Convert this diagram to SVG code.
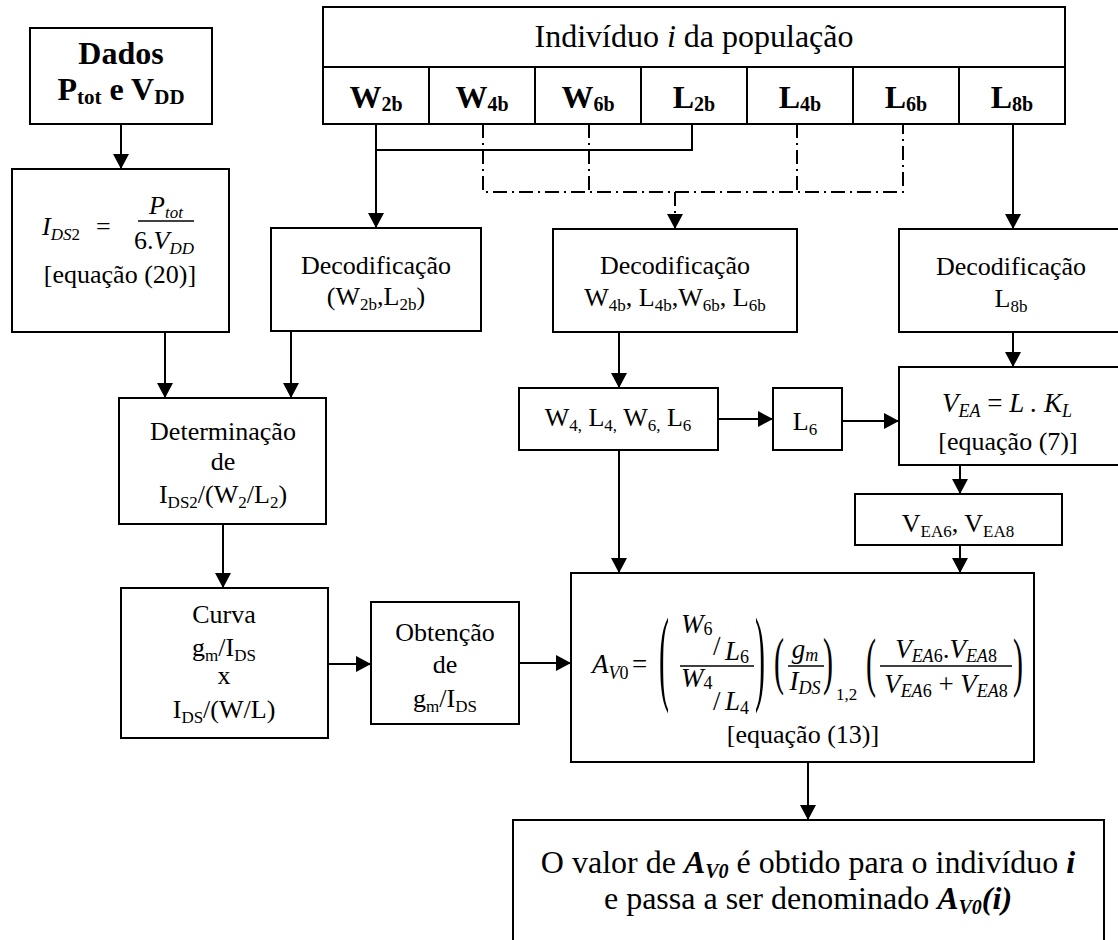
<svg xmlns="http://www.w3.org/2000/svg" width="1118" height="940" viewBox="0 0 1118 940" font-family="'Liberation Serif', 'Times New Roman', serif" font-size="26">
<style>
.box{fill:#fff;stroke:#000;stroke-width:2}
.t{font-family:'Liberation Serif', 'Times New Roman', serif;fill:#000}
.c{text-anchor:middle}
.b{font-weight:bold}
.i{font-style:italic}
.ln{stroke:#000;stroke-width:2;fill:none}
.dd{stroke-dasharray:14 5 2 5}
.bar{stroke:#000;stroke-width:1.5}
</style>
<defs>
<marker id="ah" markerUnits="userSpaceOnUse" markerWidth="16" markerHeight="16" refX="15" refY="8" orient="auto">
<path d="M0,0 L15,8 L0,16 Z" fill="#000"/>
</marker>
</defs>
<rect width="1118" height="940" fill="#fff"/>

<g id="connectors">
<line class="ln" x1="121" y1="124" x2="121" y2="169" marker-end="url(#ah)"/>
<line class="ln" x1="165" y1="332" x2="165" y2="398" marker-end="url(#ah)"/>
<line class="ln" x1="291" y1="331" x2="291" y2="398" marker-end="url(#ah)"/>
<line class="ln" x1="223" y1="524" x2="223" y2="588" marker-end="url(#ah)"/>
<line class="ln" x1="328" y1="664" x2="371" y2="664" marker-end="url(#ah)"/>
<line class="ln" x1="519" y1="663" x2="571" y2="663" marker-end="url(#ah)"/>
<line class="ln" x1="376" y1="124" x2="376" y2="228" marker-end="url(#ah)"/>
<polyline class="ln" points="376,150 692,150 692,124"/>
<polyline class="ln dd" points="483,124 483,192 903,192 903,124"/>
<line class="ln dd" x1="589" y1="124" x2="589" y2="192"/>
<line class="ln dd" x1="797" y1="124" x2="797" y2="192"/>
<line class="ln dd" x1="675" y1="192" x2="675" y2="229" marker-end="url(#ah)"/>
<line class="ln" x1="1013" y1="124" x2="1013" y2="229" marker-end="url(#ah)"/>
<line class="ln" x1="619" y1="332" x2="619" y2="388" marker-end="url(#ah)"/>
<line class="ln" x1="718" y1="419" x2="773" y2="419" marker-end="url(#ah)"/>
<line class="ln" x1="842" y1="421" x2="899" y2="421" marker-end="url(#ah)"/>
<line class="ln" x1="1013" y1="332" x2="1013" y2="367" marker-end="url(#ah)"/>
<line class="ln" x1="960" y1="465" x2="960" y2="494" marker-end="url(#ah)"/>
<line class="ln" x1="960" y1="545" x2="960" y2="573" marker-end="url(#ah)"/>
<line class="ln" x1="619" y1="450" x2="619" y2="573" marker-end="url(#ah)"/>
<line class="ln" x1="808" y1="762" x2="808" y2="820" marker-end="url(#ah)"/>
</g>

<g id="dados">
<rect class="box" x="30" y="28" width="182" height="96"/>
<text class="t b c" x="121" y="64" font-size="32">Dados</text>
<text class="t b c" x="121" y="100" font-size="32">P<tspan font-size="21" dy="4">tot</tspan><tspan dy="-4"> e V</tspan><tspan font-size="21" dy="4">DD</tspan></text>
</g>

<g id="individuo">
<rect class="box" x="323" y="7" width="742" height="117"/>
<line class="ln" x1="323" y1="67" x2="1065" y2="67"/>
<line class="ln" x1="429" y1="67" x2="429" y2="124"/>
<line class="ln" x1="535" y1="67" x2="535" y2="124"/>
<line class="ln" x1="641" y1="67" x2="641" y2="124"/>
<line class="ln" x1="747" y1="67" x2="747" y2="124"/>
<line class="ln" x1="853" y1="67" x2="853" y2="124"/>
<line class="ln" x1="959" y1="67" x2="959" y2="124"/>
<text class="t c" x="694" y="47" font-size="32">Indivíduo <tspan class="i">i</tspan> da população</text>
<text class="t b c" x="376" y="108" font-size="32">W<tspan font-size="20" dy="3">2b</tspan></text>
<text class="t b c" x="482" y="108" font-size="32">W<tspan font-size="20" dy="3">4b</tspan></text>
<text class="t b c" x="588" y="108" font-size="32">W<tspan font-size="20" dy="3">6b</tspan></text>
<text class="t b c" x="694" y="108" font-size="32">L<tspan font-size="20" dy="3">2b</tspan></text>
<text class="t b c" x="800" y="108" font-size="32">L<tspan font-size="20" dy="3">4b</tspan></text>
<text class="t b c" x="906" y="108" font-size="32">L<tspan font-size="20" dy="3">6b</tspan></text>
<text class="t b c" x="1012" y="108" font-size="32">L<tspan font-size="20" dy="3">8b</tspan></text>
</g>

<g id="ids2">
<rect class="box" x="12" y="169" width="217" height="163"/>
<text class="t i" x="42" y="235">I<tspan font-size="17" dy="5">DS</tspan><tspan font-size="17" font-style="normal">2</tspan></text>
<text class="t" x="96" y="235">=</text>
<text class="t i c" x="166" y="214">P<tspan font-size="17" dy="4">tot</tspan></text>
<line class="bar" x1="138" y1="221" x2="194" y2="221"/>
<text class="t c" x="164" y="249">6.<tspan class="i">V</tspan><tspan class="i" font-size="17" dy="5">DD</tspan></text>
<text class="t c" x="120" y="283">[equação (20)]</text>
</g>

<g id="decod1">
<rect class="box" x="271" y="228" width="210" height="103"/>
<text class="t c" x="376" y="274">Decodificação</text>
<text class="t c" x="376" y="305">(W<tspan font-size="17" dy="5">2b</tspan><tspan dy="-5">,L</tspan><tspan font-size="17" dy="5">2b</tspan><tspan dy="-5">)</tspan></text>
</g>

<g id="decod2">
<rect class="box" x="553" y="229" width="244" height="103"/>
<text class="t c" x="675" y="274">Decodificação</text>
<text class="t c" x="675" y="306">W<tspan font-size="17" dy="5">4b</tspan><tspan dy="-5">, L</tspan><tspan font-size="17" dy="5">4b</tspan><tspan dy="-5">,W</tspan><tspan font-size="17" dy="5">6b</tspan><tspan dy="-5">, L</tspan><tspan font-size="17" dy="5">6b</tspan></text>
</g>

<g id="decod3">
<rect class="box" x="899" y="229" width="226" height="103"/>
<text class="t c" x="1011" y="275">Decodificação</text>
<text class="t c" x="1011" y="307">L<tspan font-size="17" dy="5">8b</tspan></text>
</g>

<g id="determinacao">
<rect class="box" x="119" y="398" width="207" height="126"/>
<text class="t c" x="223" y="440">Determinação</text>
<text class="t c" x="223" y="470">de</text>
<text class="t c" x="223" y="503">I<tspan font-size="17" dy="5">DS2</tspan><tspan dy="-5">/(W</tspan><tspan font-size="17" dy="5">2</tspan><tspan dy="-5">/L</tspan><tspan font-size="17" dy="5">2</tspan><tspan dy="-5">)</tspan></text>
</g>

<g id="w4l4">
<rect class="box" x="519" y="388" width="199" height="62"/>
<text class="t c" x="618" y="426">W<tspan font-size="17" dy="5">4,</tspan><tspan dy="-5"> L</tspan><tspan font-size="17" dy="5">4,</tspan><tspan dy="-5"> W</tspan><tspan font-size="17" dy="5">6,</tspan><tspan dy="-5"> L</tspan><tspan font-size="17" dy="5">6</tspan></text>
</g>

<g id="l6">
<rect class="box" x="773" y="388" width="69" height="62"/>
<text class="t c" x="805" y="430">L<tspan font-size="17" dy="5">6</tspan></text>
</g>

<g id="vea">
<rect class="box" x="899" y="367" width="226" height="98"/>
<text class="t i c" x="1007" y="412" font-size="27">V<tspan font-size="18" dy="5">EA</tspan><tspan dy="-5" font-style="normal"> = </tspan>L . K<tspan font-size="18" dy="5">L</tspan></text>
<text class="t c" x="1008" y="450">[equação (7)]</text>
</g>

<g id="vea68">
<rect class="box" x="855" y="494" width="207" height="51"/>
<text class="t c" x="958" y="532">V<tspan font-size="17" dy="5">EA6</tspan><tspan dy="-5">, V</tspan><tspan font-size="17" dy="5">EA8</tspan></text>
</g>

<g id="curva">
<rect class="box" x="121" y="588" width="207" height="150"/>
<text class="t c" x="224" y="623">Curva</text>
<text class="t c" x="224" y="656">g<tspan font-size="17" dy="5">m</tspan><tspan dy="-5">/I</tspan><tspan font-size="17" dy="5">DS</tspan></text>
<text class="t c" x="224" y="684">x</text>
<text class="t c" x="224" y="718">I<tspan font-size="17" dy="5">DS</tspan><tspan dy="-5">/(W/L)</tspan></text>
</g>

<g id="obtencao">
<rect class="box" x="371" y="602" width="148" height="122"/>
<text class="t c" x="445" y="641">Obtenção</text>
<text class="t c" x="445" y="673">de</text>
<text class="t c" x="445" y="707">g<tspan font-size="17" dy="5">m</tspan><tspan dy="-5">/I</tspan><tspan font-size="17" dy="5">DS</tspan></text>
</g>

<g id="equacao">
<rect class="box" x="571" y="573" width="463" height="189"/>
<text class="t i" x="592" y="673" font-size="27">A<tspan font-size="18" dy="6">V</tspan><tspan font-size="18" font-style="normal">0</tspan></text>
<text class="t" x="632" y="673" font-size="27">=</text>
<text class="t" transform="translate(659,691) scale(1,3.5)" font-size="30">(</text>
<text class="t i" x="681" y="633" font-size="27">W<tspan font-size="18" font-style="normal" dy="2">6</tspan></text>
<text class="t" x="713" y="655" font-size="27">/</text>
<text class="t i" x="725" y="660" font-size="27">L<tspan font-size="18" font-style="normal" dy="3">6</tspan></text>
<line class="bar" x1="680" y1="666" x2="754" y2="666"/>
<text class="t i" x="681" y="687" font-size="27">W<tspan font-size="18" font-style="normal" dy="2">4</tspan></text>
<text class="t" x="713" y="710" font-size="27">/</text>
<text class="t i" x="725" y="710" font-size="27">L<tspan font-size="18" font-style="normal" dy="4">4</tspan></text>
<text class="t" transform="translate(755,691) scale(1,3.5)" font-size="30">)</text>
<text class="t" transform="translate(774,682) scale(1,2.1)" font-size="30">(</text>
<text class="t i c" x="805" y="658" font-size="27">g<tspan font-size="18" dy="3">m</tspan></text>
<line class="bar" x1="788" y1="666" x2="824" y2="666"/>
<text class="t i c" x="805" y="690" font-size="27">I<tspan font-size="18" dy="4">DS</tspan></text>
<text class="t" transform="translate(823,682) scale(1,2.1)" font-size="30">)</text>
<text class="t" x="836" y="700" font-size="17">1,2</text>
<text class="t" transform="translate(866,684) scale(1,2.2)" font-size="30">(</text>
<text class="t i c" x="946" y="658" font-size="27">V<tspan font-size="18" dy="4">EA</tspan><tspan font-size="18" font-style="normal">6</tspan><tspan dy="-4" font-style="normal">.</tspan>V<tspan font-size="18" dy="4">EA</tspan><tspan font-size="18" font-style="normal">8</tspan></text>
<line class="bar" x1="880" y1="666" x2="1012" y2="666"/>
<text class="t i c" x="946" y="693" font-size="27">V<tspan font-size="18" dy="4">EA</tspan><tspan font-size="18" font-style="normal">6</tspan><tspan dy="-4" font-style="normal"> + </tspan>V<tspan font-size="18" dy="4">EA</tspan><tspan font-size="18" font-style="normal">8</tspan></text>
<text class="t" transform="translate(1013,684) scale(1,2.2)" font-size="30">)</text>
<text class="t c" x="803" y="743">[equação (13)]</text>
</g>

<g id="resultado">
<rect class="box" x="513" y="820" width="591" height="140"/>
<text class="t c" x="808" y="873" font-size="32">O valor de <tspan class="b i">A</tspan><tspan class="b i" font-size="20" dy="5">V0</tspan><tspan dy="-5"> é obtido para o indivíduo </tspan><tspan class="b i">i</tspan></text>
<text class="t c" x="808" y="909" font-size="32">e passa a ser denominado <tspan class="b i">A</tspan><tspan class="b i" font-size="20" dy="5">V0</tspan><tspan class="b i" dy="-5">(i)</tspan></text>
</g>
</svg>
